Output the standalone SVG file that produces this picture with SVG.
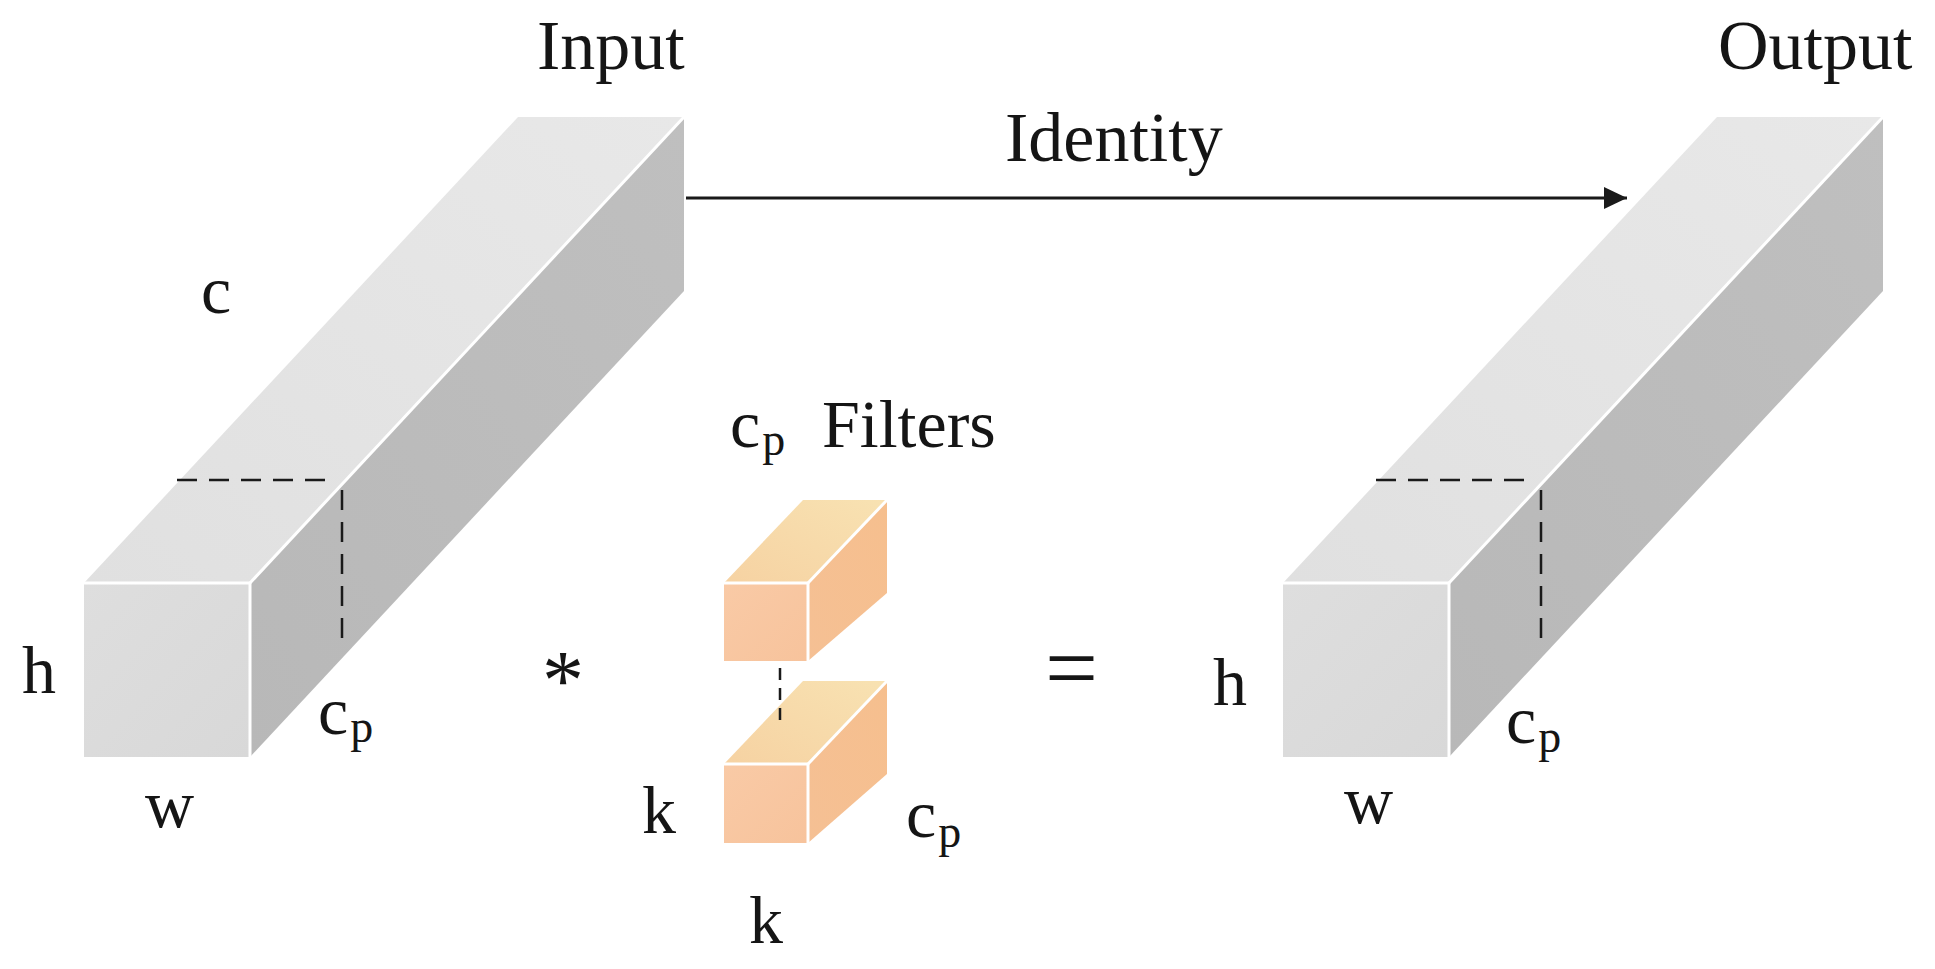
<svg xmlns="http://www.w3.org/2000/svg" width="1935" height="969" viewBox="0 0 1935 969">
<defs>
<style>
.t{font-family:"Liberation Serif","Times New Roman",serif;fill:#151515;font-size:68px}
.big{font-size:70px}
.sub{font-size:46px}
.edge{fill:none;stroke:#ffffff;stroke-width:3;stroke-linejoin:round}
.dash{fill:none;stroke:#1a1a1a;stroke-width:2.5;stroke-dasharray:20 12}
.fdash{fill:none;stroke:#1a1a1a;stroke-width:2.5;stroke-dasharray:12 8}
.gtop{fill:url(#gTop)}
.gfront{fill:url(#gFront)}
.gright{fill:url(#gRight)}
.otop{fill:url(#oTop)}
.ofront{fill:url(#oFront)}
.oright{fill:url(#oRight)}
</style>
<linearGradient id="gTop" x1="0" y1="1" x2="1" y2="0">
<stop offset="0" stop-color="#e0e0e0"/><stop offset="1" stop-color="#e8e8e8"/>
</linearGradient>
<linearGradient id="gFront" x1="0" y1="0" x2="1" y2="1">
<stop offset="0" stop-color="#dedede"/><stop offset="1" stop-color="#d8d8d8"/>
</linearGradient>
<linearGradient id="gRight" x1="0" y1="1" x2="1" y2="0">
<stop offset="0" stop-color="#b8b8b8"/><stop offset="1" stop-color="#bfbfbf"/>
</linearGradient>
<linearGradient id="oTop" x1="0" y1="1" x2="1" y2="0">
<stop offset="0" stop-color="#f6d2a2"/><stop offset="1" stop-color="#f8e2b2"/>
</linearGradient>
<linearGradient id="oFront" x1="0" y1="0" x2="1" y2="1">
<stop offset="0" stop-color="#f9caa6"/><stop offset="1" stop-color="#f7c39c"/>
</linearGradient>
<linearGradient id="oRight" x1="0" y1="1" x2="1" y2="0">
<stop offset="0" stop-color="#f5c094"/><stop offset="1" stop-color="#f6bf8e"/>
</linearGradient>
<marker id="arrow" markerUnits="userSpaceOnUse" markerWidth="24" markerHeight="22" refX="23" refY="11" orient="auto">
<path d="M0,0 L23,11 L0,22 Z" fill="#1a1a1a"/>
</marker>
</defs>
<rect width="1935" height="969" fill="#ffffff"/>

<g id="input-tensor">
<polygon class="gtop" points="84,583 250,583 684,117 518,117"/>
<polygon class="gright" points="250,583 684,117 684,291 250,757"/>
<rect class="gfront" x="84" y="583" width="166" height="174"/>
<polyline class="edge" points="84,583 250,583 250,757"/>
<line class="edge" x1="250" y1="583" x2="684" y2="117"/>
<line class="dash" x1="177" y1="480" x2="333" y2="480"/>
<line class="dash" x1="342" y1="490" x2="342" y2="643"/>
<text class="t big" x="537" y="69">Input</text>
<text class="t" x="201" y="313">c</text>
<text class="t" x="22" y="693">h</text>
<text class="t" x="145" y="827">w</text>
<text class="t" x="318" y="734">c<tspan class="sub" dx="2" dy="8">p</tspan></text>
</g>

<g id="operator-conv">
<text class="t" x="563" y="709" text-anchor="middle" style="font-size:84px">*</text>
</g>

<g id="filters">
<polygon class="otop" points="724,583 808,583 887,500 803,500"/>
<polygon class="oright" points="808,583 887,500 887,593 808,661"/>
<rect class="ofront" x="724" y="583" width="84" height="78"/>
<polyline class="edge" points="724,583 808,583 808,661"/>
<line class="edge" x1="808" y1="583" x2="887" y2="500"/>
<polygon class="otop" points="724,764 808,764 887,681 803,681"/>
<polygon class="oright" points="808,764 887,681 887,774 808,843"/>
<rect class="ofront" x="724" y="764" width="84" height="79"/>
<polyline class="edge" points="724,764 808,764 808,843"/>
<line class="edge" x1="808" y1="764" x2="887" y2="681"/>
<line class="fdash" x1="780" y1="668" x2="780" y2="728"/>
<text class="t" x="730" y="447">c<tspan class="sub" dx="2" dy="8">p</tspan></text>
<text class="t" x="822" y="447">Filters</text>
<text class="t" x="642" y="833">k</text>
<text class="t" x="906" y="837">c<tspan class="sub" dx="2" dy="10">p</tspan></text>
<text class="t" x="749" y="943">k</text>
</g>

<g id="operator-equals">
<text class="t" x="1071.5" y="699" text-anchor="middle" style="font-size:94px">=</text>
</g>

<g id="output-tensor">
<polygon class="gtop" points="1283,583 1449,583 1883,117 1717,117"/>
<polygon class="gright" points="1449,583 1883,117 1883,291 1449,757"/>
<rect class="gfront" x="1283" y="583" width="166" height="174"/>
<polyline class="edge" points="1283,583 1449,583 1449,757"/>
<line class="edge" x1="1449" y1="583" x2="1883" y2="117"/>
<line class="dash" x1="1376" y1="480" x2="1532" y2="480"/>
<line class="dash" x1="1541" y1="490" x2="1541" y2="643"/>
<text class="t big" x="1718" y="69">Output</text>
<text class="t" x="1213" y="705">h</text>
<text class="t" x="1344" y="823">w</text>
<text class="t" x="1506" y="743">c<tspan class="sub" dx="2" dy="9">p</tspan></text>
</g>

<g id="connectors">
<line x1="686" y1="198" x2="1627" y2="198" stroke="#1a1a1a" stroke-width="3" marker-end="url(#arrow)"/>
<text class="t big" x="1005" y="161">Identity</text>
</g>
</svg>
